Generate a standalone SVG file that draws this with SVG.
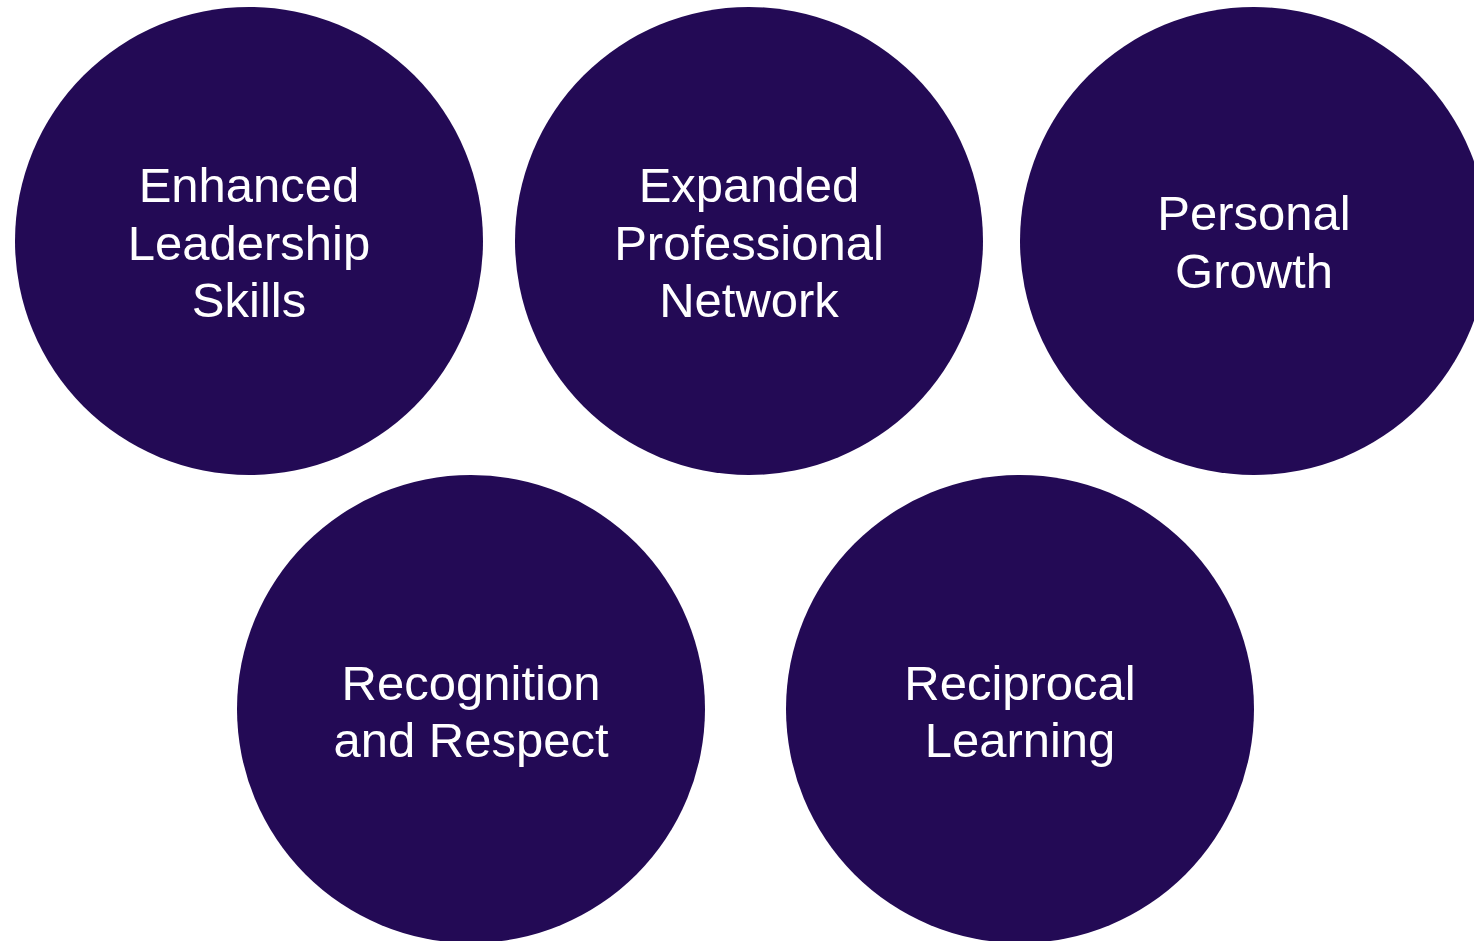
<svg xmlns="http://www.w3.org/2000/svg" width="1474" height="941" viewBox="0 0 1474 941">
<style>
.c{fill:#230A55}
.t{fill:#ffffff;font-family:"Liberation Sans",Arial,sans-serif;font-size:49px;text-anchor:middle}
</style>
<rect width="1474" height="941" fill="#ffffff"/>
<g id="node-enhanced-leadership">
<circle class="c" cx="249" cy="241" r="234"/>
<text class="t" x="249" y="202">Enhanced</text>
<text class="t" x="249" y="260">Leadership</text>
<text class="t" x="249" y="317">Skills</text>
</g>
<g id="node-expanded-network">
<circle class="c" cx="749" cy="241" r="234"/>
<text class="t" x="749" y="202">Expanded</text>
<text class="t" x="749" y="260">Professional</text>
<text class="t" x="749" y="317">Network</text>
</g>
<g id="node-personal-growth">
<circle class="c" cx="1254" cy="241" r="234"/>
<text class="t" x="1254" y="230">Personal</text>
<text class="t" x="1254" y="288">Growth</text>
</g>
<g id="node-recognition">
<circle class="c" cx="471" cy="709" r="234"/>
<text class="t" x="471" y="700">Recognition</text>
<text class="t" x="471" y="757">and Respect</text>
</g>
<g id="node-reciprocal">
<circle class="c" cx="1020" cy="709" r="234"/>
<text class="t" x="1020" y="700">Reciprocal</text>
<text class="t" x="1020" y="757">Learning</text>
</g>
<g id="connectors"></g>
</svg>
